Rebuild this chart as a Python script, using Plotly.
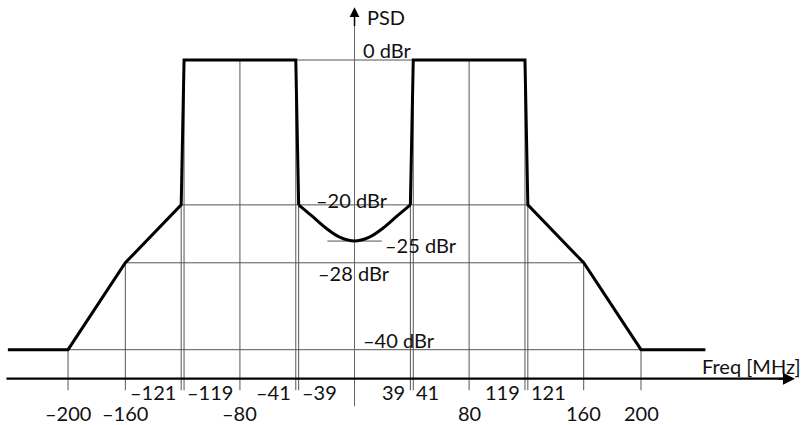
import plotly.graph_objects as go

# Spectral mask (frequency in MHz, PSD in dBr): outer straight part and the curved dip
mask_left_x = [-242, -200, -160, -121, -119, -41, -39]
mask_left_y = [-40, -40, -28, -20, 0, 0, -20]
dip_x = [-39, -30, -20, -10, 0, 10, 20, 30, 39]
dip_y = [-20, -21.5, -23.2, -24.5, -25, -24.5, -23.2, -21.5, -20]
mask_right_x = [39, 41, 119, 121, 160, 200, 245]
mask_right_y = [-20, 0, 0, -20, -28, -40, -40]

# Reference levels and the half-width of their guide lines
levels = [0, -20, -25, -28, -40]
level_half_width = [119, 121, 19, 160, 200]
level_labels = ["0 dBr", "\u201320 dBr", "\u201325 dBr", "\u201328 dBr", "\u201340 dBr"]
level_label_x = [6, -27, 21, -25.5, 6]
level_label_y = [1.4, -19.3, -25.6, -29.4, -38.6]

# Vertical guide lines: frequency and the level they start from
guide_x = [-200, -160, -121, -119, -80, -41, -39, 39, 41, 80, 119, 121, 160, 200]
guide_top = [-40, -28, -20, 0, 0, 0, -20, -20, 0, 0, 0, -20, -28, -40]

upper_ticks = [-121, -119, -41, -39, 39, 41, 119, 121]
upper_labels = ["\u2013121", "\u2013119", "\u201341", "\u201339", "39", "41", "119", "121"]
lower_ticks = [-200, -160, -80, 80, 160, 200]
lower_labels = ["\u2013200", "\u2013160", "\u201380", "80", "160", "200"]

AXIS_Y = -44
GUIDE_BOTTOM = -45.6
FONT = dict(family="Lato, Open Sans, sans-serif", size=20, color="#111")

fig = go.Figure()

# horizontal level lines
for lv, hw in zip(levels, level_half_width):
    fig.add_trace(go.Scatter(x=[-hw, hw], y=[lv, lv], mode="lines",
                             line=dict(color="#555", width=1), hoverinfo="skip"))
# vertical guides
for gx, gt in zip(guide_x, guide_top):
    fig.add_trace(go.Scatter(x=[gx, gx], y=[gt, GUIDE_BOTTOM], mode="lines",
                             line=dict(color="#555", width=1), hoverinfo="skip"))
# PSD axis line
fig.add_trace(go.Scatter(x=[0, 0], y=[-47.8, 6.5], mode="lines",
                         line=dict(color="#666", width=1), hoverinfo="skip"))
# Freq axis line
fig.add_trace(go.Scatter(x=[-243, 303], y=[AXIS_Y, AXIS_Y], mode="lines",
                         line=dict(color="#000", width=2.2), hoverinfo="skip"))
# mask
fig.add_trace(go.Scatter(x=mask_left_x, y=mask_left_y, mode="lines",
                         line=dict(color="#000", width=3), hoverinfo="skip"))
fig.add_trace(go.Scatter(x=dip_x, y=dip_y, mode="lines",
                         line=dict(color="#000", width=3, shape="spline", smoothing=1),
                         hoverinfo="skip"))
fig.add_trace(go.Scatter(x=mask_right_x, y=mask_right_y, mode="lines",
                         line=dict(color="#000", width=3), hoverinfo="skip"))

ann = []
# arrowheads
ann.append(dict(x=307.5, y=AXIS_Y, ax=295, ay=AXIS_Y, xref="x", yref="y", axref="x", ayref="y",
                showarrow=True, arrowhead=2, arrowsize=1.2, arrowwidth=2, arrowcolor="#000", text=""))
ann.append(dict(x=0, y=7.3, ax=0, ay=4.5, xref="x", yref="y", axref="x", ayref="y",
                showarrow=True, arrowhead=2, arrowsize=1.3, arrowwidth=1.5, arrowcolor="#000", text=""))

# level labels
for t, lx, ly in zip(level_labels, level_label_x, level_label_y):
    ann.append(dict(x=lx, y=ly, text=t, showarrow=False, xanchor="left", yanchor="middle",
                    xshift=-2, font=FONT))
ann.append(dict(x=9, y=5.9, text="PSD", showarrow=False, xanchor="left", yanchor="middle",
                xshift=-2, font=FONT))
ann.append(dict(x=311.5, y=-42.2, text="Freq [MHz]", showarrow=False, xanchor="right",
                yanchor="middle", xshift=2, font=FONT))

# upper row tick labels (placed beside their guide lines)
for tv, tl in zip(upper_ticks, upper_labels):
    if tv in (-121, -41, 39, 119):
        ann.append(dict(x=tv, y=-45.9, text=tl, showarrow=False, xanchor="right",
                        yanchor="middle", xshift=-3, font=FONT))
    else:
        ann.append(dict(x=tv, y=-45.9, text=tl, showarrow=False, xanchor="left",
                        yanchor="middle", xshift=1, font=FONT))
# lower row tick labels
for tv, tl in zip(lower_ticks, lower_labels):
    ann.append(dict(x=tv, y=-48.7, text=tl, showarrow=False, xanchor="center",
                    yanchor="middle", font=FONT))

fig.update_layout(
    width=803, height=425,
    margin=dict(l=0, r=0, t=0, b=0),
    paper_bgcolor="white", plot_bgcolor="white",
    showlegend=False,
    xaxis=dict(range=[-247.5, 313.1], visible=False, fixedrange=True),
    yaxis=dict(range=[-50.4, 8.29], visible=False, fixedrange=True),
    annotations=ann,
)

fig.write_html("out.html")
